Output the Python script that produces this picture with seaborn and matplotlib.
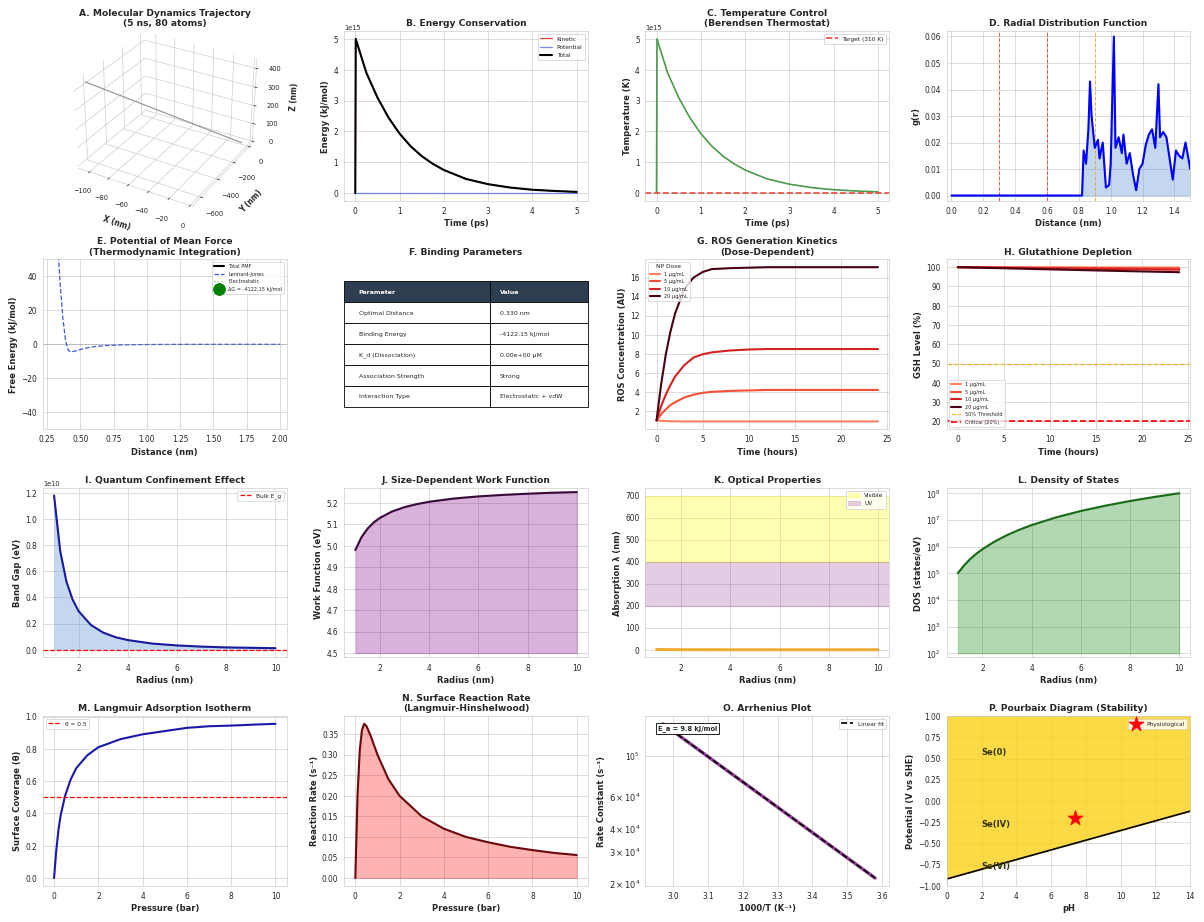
import numpy as np
import pandas as pd
import seaborn as sns
import matplotlib
matplotlib.use("Agg")
import matplotlib.pyplot as plt
from matplotlib.patches import Patch

sns.set_style("whitegrid")
plt.rcParams['font.family'] = ['DejaVu Sans']

# ---- data ----
# A: trajectory (one straight path)
traj_x = [-105, -55, -5]
traj_y = [-650, -325, 0]
traj_z = [440, 220, 0]

# B/C: energy and temperature (scaled by 1e15)
t_ps = [0, 0.01, 0.25, 0.5, 0.75, 1.0, 1.25, 1.5, 1.75, 2.0, 2.5, 3.0, 3.5, 4.0, 4.5, 5.0]
e_total = [0, 5.0, 3.9, 3.1, 2.45, 1.93, 1.52, 1.2, 0.95, 0.75, 0.46, 0.29, 0.18, 0.11, 0.07, 0.04]
e_kin = [0, 5.0, 3.9, 3.1, 2.45, 1.93, 1.52, 1.2, 0.95, 0.75, 0.46, 0.29, 0.18, 0.11, 0.07, 0.04]
e_pot = [0, 0, 0, 0, 0, 0, 0, 0, 0, 0, 0, 0, 0, 0, 0, 0]
temp_k = [0, 5.0, 3.9, 3.1, 2.45, 1.93, 1.52, 1.2, 0.95, 0.75, 0.46, 0.29, 0.18, 0.11, 0.07, 0.04]
target_temp = 310

# D: radial distribution function
rdf_r = [0.0, 0.82, 0.83, 0.845, 0.86, 0.87, 0.88, 0.9, 0.92, 0.93, 0.95, 0.97, 0.99, 1.0, 1.02,
         1.03, 1.05, 1.07, 1.08, 1.1, 1.12, 1.14, 1.16, 1.18, 1.2, 1.22, 1.24, 1.26, 1.28, 1.3,
         1.31, 1.33, 1.35, 1.37, 1.39, 1.41, 1.43, 1.45, 1.47, 1.5]
rdf_g = [0, 0, 0.017, 0.012, 0.025, 0.043, 0.030, 0.018, 0.021, 0.014, 0.020, 0.003, 0.004, 0.012, 0.060,
         0.018, 0.022, 0.016, 0.023, 0.012, 0.016, 0.008, 0.002, 0.010, 0.012, 0.019, 0.023, 0.025, 0.018, 0.042,
         0.022, 0.024, 0.022, 0.014, 0.006, 0.017, 0.015, 0.014, 0.020, 0.010]
shells = [0.3, 0.6, 0.9]

# E: potential of mean force
pmf_r = [0.33, 0.35, 0.37, 0.39, 0.41, 0.43, 0.47, 0.52, 0.6, 0.7, 0.8, 1.0, 1.25, 1.5, 1.75, 2.0]
pmf_lj = [60, 35, 15, 2, -3.5, -4.5, -3.8, -2.6, -1.4, -0.7, -0.35, -0.1, -0.03, -0.01, 0, 0]
pmf_elec = [-12500, -11800, -11150, -10600, -10050, -9600, -8800, -7950, -6900, -5900, -5150, -4150, -3300, -2750, -2350, -2050]
pmf_total = [-12440, -11765, -11135, -10598, -10054, -9605, -8804, -7953, -6901, -5901, -5150, -4150, -3300, -2750, -2350, -2050]
dg_min = -4122.15

# F: binding parameters
param_names = ["Optimal Distance", "Binding Energy", "K_d (Dissociation)", "Association Strength", "Interaction Type"]
param_values = ["0.330 nm", "-4122.15 kJ/mol", "0.00e+00 μM", "Strong", "Electrostatic + vdW"]

# G/H: dose-dependent ROS and GSH
t_hours = [0, 0.5, 1, 1.5, 2, 3, 4, 5, 6, 8, 10, 12, 16, 20, 24]
doses = ["1 μg/mL", "5 μg/mL", "10 μg/mL", "20 μg/mL"]
ros_1 = [1.0, 0.96, 0.93, 0.91, 0.9, 0.89, 0.89, 0.89, 0.89, 0.89, 0.89, 0.89, 0.89, 0.89, 0.89]
ros_5 = [1.0, 1.65, 2.15, 2.6, 2.9, 3.4, 3.7, 3.9, 4.0, 4.1, 4.15, 4.2, 4.2, 4.2, 4.2]
ros_10 = [1.0, 2.5, 3.7, 4.7, 5.6, 6.8, 7.6, 7.95, 8.15, 8.35, 8.45, 8.5, 8.5, 8.5, 8.5]
ros_20 = [1.0, 4.8, 7.9, 10.3, 12.2, 14.8, 16.0, 16.6, 16.9, 17.0, 17.05, 17.1, 17.1, 17.1, 17.1]
gsh_1 = [100, 100, 100, 100, 100, 99.98, 99.97, 99.96, 99.95, 99.93, 99.92, 99.9, 99.88, 99.85, 99.82]
gsh_5 = [100, 100, 99.98, 99.96, 99.94, 99.9, 99.87, 99.84, 99.81, 99.76, 99.7, 99.65, 99.56, 99.46, 99.36]
gsh_10 = [100, 99.99, 99.97, 99.94, 99.9, 99.84, 99.78, 99.72, 99.66, 99.55, 99.44, 99.33, 99.12, 98.9, 98.7]
gsh_20 = [100, 99.97, 99.92, 99.86, 99.8, 99.68, 99.56, 99.45, 99.33, 99.1, 98.88, 98.66, 98.22, 97.8, 97.4]

# I-L: size effects
radius = [1, 1.25, 1.5, 1.75, 2, 2.5, 3, 3.5, 4, 5, 6, 7, 8, 9, 10]
band_gap = [1.18, 0.755, 0.524, 0.385, 0.295, 0.189, 0.131, 0.096, 0.074, 0.047, 0.033, 0.024, 0.018, 0.015, 0.012]
work_fn = [4.98, 5.04, 5.08, 5.109, 5.13, 5.16, 5.18, 5.194, 5.205, 5.22, 5.23, 5.237, 5.2425, 5.247, 5.25]
abs_wl = [1.2, 0.77, 0.53, 0.39, 0.3, 0.19, 0.13, 0.1, 0.07, 0.05, 0.03, 0.02, 0.02, 0.01, 0.01]
dos = [1.0e5, 1.95e5, 3.4e5, 5.4e5, 8.0e5, 1.56e6, 2.7e6, 4.3e6, 6.4e6, 1.25e7, 2.16e7, 3.43e7, 5.12e7, 7.29e7, 1.0e8]
bulk_gap = 0.0
visible_band = (400, 700)
uv_band = (200, 400)

# M/N: surface chemistry
p_m = [0, 0.1, 0.2, 0.3, 0.5, 0.75, 1, 1.5, 2, 3, 4, 5, 6, 7, 8, 9, 10]
coverage = [0, 0.17, 0.30, 0.39, 0.51, 0.61, 0.68, 0.76, 0.81, 0.86, 0.89, 0.91, 0.93, 0.94, 0.944, 0.95, 0.955]
p_n = [0, 0.1, 0.2, 0.3, 0.4, 0.5, 0.7, 1.0, 1.5, 2, 3, 4, 5, 6, 7, 8, 9, 10]
rate = [0, 0.2, 0.31, 0.36, 0.375, 0.37, 0.345, 0.3, 0.24, 0.2, 0.15, 0.12, 0.1, 0.087, 0.076, 0.068, 0.061, 0.056]

# O: Arrhenius
inv_t = [2.97, 3.05, 3.15, 3.25, 3.35, 3.45, 3.58]
k_rate = [150000, 116300, 84500, 61500, 44700, 32500, 21500]

# P: Pourbaix
ph = [0, 14]
boundary = [-0.92, -0.12]
phys_ph, phys_e = 7.4, -0.2

# ---- figure ----
fig = plt.figure(figsize=(20, 15.32), dpi=60.2)
gs = fig.add_gridspec(4, 4)
TS = 11
LS = 10

def style(ax, title, xl, yl):
    ax.set_title(title, fontsize=TS, fontweight='bold')
    ax.set_xlabel(xl, fontsize=LS, fontweight='bold')
    ax.set_ylabel(yl, fontsize=LS, fontweight='bold')
    ax.tick_params(labelsize=9)

# A
ax = fig.add_subplot(gs[0, 0], projection='3d')
ax.plot(traj_x, traj_y, traj_z, color='gray', alpha=0.8, lw=1.5)
ax.set_title("A. Molecular Dynamics Trajectory\n(5 ns, 80 atoms)", fontsize=TS, fontweight='bold')
ax.set_xlabel("X (nm)", fontsize=9, fontweight='bold')
ax.set_ylabel("Y (nm)", fontsize=9, fontweight='bold')
ax.set_zlabel("Z (nm)", fontsize=9, fontweight='bold')
ax.set_yticks([-600, -400, -200, 0])
ax.tick_params(labelsize=8)
ax.set_box_aspect(None, zoom=1.2)
for pane in (ax.xaxis, ax.yaxis, ax.zaxis):
    pane.set_pane_color((1, 1, 1, 0))

# B
ax = fig.add_subplot(gs[0, 1])
df = pd.DataFrame({"t": t_ps, "Kinetic": e_kin, "Potential": e_pot, "Total": e_total})
sns.lineplot(data=df, x="t", y="Kinetic", ax=ax, color='#e74c3c', lw=1.5, label="Kinetic")
sns.lineplot(data=df, x="t", y="Potential", ax=ax, color='#3b5bdb', lw=1.5, alpha=0.7, label="Potential")
sns.lineplot(data=df, x="t", y="Total", ax=ax, color='black', lw=2.5, label="Total")
ax.legend(fontsize=7, loc='upper right')
ax.text(0, 1.01, "1e15", transform=ax.transAxes, fontsize=8)
style(ax, "B. Energy Conservation", "Time (ps)", "Energy (kJ/mol)")

# C
ax = fig.add_subplot(gs[0, 2])
sns.lineplot(x=t_ps, y=temp_k, ax=ax, color='#4c9a4c', lw=2)
ax.axhline(target_temp / 1e15, color='#e74c3c', ls='--', lw=2, label="Target (310 K)")
ax.legend(fontsize=7, loc='upper right')
ax.text(0, 1.01, "1e15", transform=ax.transAxes, fontsize=8)
style(ax, "C. Temperature Control\n(Berendsen Thermostat)", "Time (ps)", "Temperature (K)")

# D
ax = fig.add_subplot(gs[0, 3])
for s, c in zip(shells, ['#e74c3c', '#e74c3c', '#f0a830']):
    ax.axvline(s, color=c, ls='--', lw=1.2, alpha=0.9)
sns.lineplot(x=rdf_r, y=rdf_g, ax=ax, color='blue', lw=2.5)
ax.fill_between(rdf_r, rdf_g, color='#6a9fd8', alpha=0.4)
ax.set_xlim(-0.03, 1.5)
ax.set_ylim(-0.002, 0.062)
style(ax, "D. Radial Distribution Function", "Distance (nm)", "g(r)")

# E
ax = fig.add_subplot(gs[1, 0])
sns.lineplot(x=pmf_r, y=pmf_total, ax=ax, color='black', lw=2.5, label="Total PMF")
sns.lineplot(x=pmf_r, y=pmf_lj, ax=ax, color='#3b5bdb', lw=1.5, ls='--', label="Lennard-Jones")
sns.lineplot(x=pmf_r, y=pmf_elec, ax=ax, color='#8fbf6a', lw=1.5, ls=':', label="Electrostatic")
ax.scatter([0.33], [dg_min], s=200, color='green', zorder=5, label=f"ΔG = {dg_min:.2f} kJ/mol")
ax.axhline(0, color='gray', lw=0.8, alpha=0.5)
ax.set_xlim(0.22, 2.05)
ax.set_ylim(-50, 50)
ax.legend(fontsize=6, loc='upper right')
style(ax, "E. Potential of Mean Force\n(Thermodynamic Integration)", "Distance (nm)", "Free Energy (kJ/mol)")

# F
ax = fig.add_subplot(gs[1, 1])
ax.axis('off')
tbl = ax.table(cellText=[[n, v] for n, v in zip(param_names, param_values)],
               colLabels=["Parameter", "Value"], cellLoc='left', colLoc='left', loc='center',
               colWidths=[0.6, 0.4])
tbl.auto_set_font_size(False)
tbl.set_fontsize(7.5)
tbl.scale(1, 1.9)
for (r, c), cell in tbl.get_celld().items():
    if r == 0:
        cell.set_facecolor('#2c3e50')
        cell.set_text_props(color='white', fontweight='bold')
ax.set_title("F. Binding Parameters", fontsize=TS, fontweight='bold')

# G
reds = sns.color_palette("Reds", 6)[2:]
reds = [reds[0], reds[1], reds[2], '#4a0010']
ax = fig.add_subplot(gs[1, 2])
for vals, lab, col in zip([ros_1, ros_5, ros_10, ros_20], doses, reds):
    sns.lineplot(x=t_hours, y=vals, ax=ax, color=col, lw=2.5, label=lab)
ax.legend(title="NP Dose", fontsize=6, title_fontsize=7, loc='upper left')
ax.set_xlim(-1.2, 25.2)
style(ax, "G. ROS Generation Kinetics\n(Dose-Dependent)", "Time (hours)", "ROS Concentration (AU)")

# H
ax = fig.add_subplot(gs[1, 3])
for vals, lab, col in zip([gsh_1, gsh_5, gsh_10, gsh_20], doses, reds):
    sns.lineplot(x=t_hours, y=vals, ax=ax, color=col, lw=2.5, label=lab)
ax.axhline(50, color='#f0b030', ls='--', lw=1.5, label="50% Threshold")
ax.axhline(20, color='red', ls='--', lw=2, label="Critical (20%)")
ax.legend(fontsize=6, loc='lower left')
ax.set_xlim(-1.2, 25.2)
style(ax, "H. Glutathione Depletion", "Time (hours)", "GSH Level (%)")

# I
ax = fig.add_subplot(gs[2, 0])
sns.lineplot(x=radius, y=band_gap, ax=ax, color='#1a1a9a', lw=2.5)
ax.fill_between(radius, band_gap, color='#6a9fd8', alpha=0.4)
ax.axhline(bulk_gap, color='red', ls='--', lw=1.5, label="Bulk E_g")
ax.legend(fontsize=7, loc='upper right')
ax.text(0, 1.01, "1e10", transform=ax.transAxes, fontsize=8)
style(ax, "I. Quantum Confinement Effect", "Radius (nm)", "Band Gap (eV)")

# J
ax = fig.add_subplot(gs[2, 1])
sns.lineplot(x=radius, y=work_fn, ax=ax, color='#3a0a3a', lw=2.5)
ax.fill_between(radius, work_fn, 4.5, color='purple', alpha=0.3)
ax.set_ylim(4.48, 5.27)
style(ax, "J. Size-Dependent Work Function", "Radius (nm)", "Work Function (eV)")

# K
ax = fig.add_subplot(gs[2, 2])
ax.axhspan(*visible_band, color='yellow', alpha=0.3, label="Visible")
ax.axhspan(*uv_band, color='purple', alpha=0.2, label="UV")
sns.lineplot(x=radius, y=abs_wl, ax=ax, color='#f0a830', lw=3.5)
ax.legend(handles=[Patch(color='yellow', alpha=0.3, label="Visible"),
                   Patch(color='purple', alpha=0.2, label="UV")], fontsize=7, loc='upper right')
ax.set_xlim(0.55, 10.45)
style(ax, "K. Optical Properties", "Radius (nm)", "Absorption λ (nm)")

# L
ax = fig.add_subplot(gs[2, 3])
sns.lineplot(x=radius, y=dos, ax=ax, color='#1a6a1a', lw=2.5)
ax.fill_between(radius, dos, 1e2, color='green', alpha=0.3)
ax.set_yscale('log')
ax.set_ylim(7e1, 1.6e8)
style(ax, "L. Density of States", "Radius (nm)", "DOS (states/eV)")

# M
ax = fig.add_subplot(gs[3, 0])
sns.lineplot(x=p_m, y=coverage, ax=ax, color='#1a1aaa', lw=2.5)
ax.axhline(0.5, color='red', ls='--', lw=1.5, label="θ = 0.5")
ax.legend(fontsize=7, loc='upper left')
style(ax, "M. Langmuir Adsorption Isotherm", "Pressure (bar)", "Surface Coverage (θ)")

# N
ax = fig.add_subplot(gs[3, 1])
sns.lineplot(x=p_n, y=rate, ax=ax, color='#6a0a0a', lw=2.5)
ax.fill_between(p_n, rate, color='red', alpha=0.3)
style(ax, "N. Surface Reaction Rate\n(Langmuir-Hinshelwood)", "Pressure (bar)", "Reaction Rate (s⁻¹)")

# O
ax = fig.add_subplot(gs[3, 2])
sns.lineplot(x=inv_t, y=k_rate, ax=ax, color='#9a3a9a', lw=4)
sns.lineplot(x=inv_t, y=k_rate, ax=ax, color='black', lw=2, ls='--', label="Linear fit")
ax.set_yscale('log')
ax.set_xlim(2.92, 3.62)
ax.legend(fontsize=7, loc='upper right')
ax.text(0.05, 0.95, "E_a = 9.8 kJ/mol", transform=ax.transAxes, fontsize=8, fontweight='bold',
        va='top', bbox=dict(boxstyle='square', facecolor='white', edgecolor='black'))
style(ax, "O. Arrhenius Plot", "1000/T (K⁻¹)", "Rate Constant (s⁻¹)")

# P
ax = fig.add_subplot(gs[3, 3])
ax.fill_between(ph, boundary, 1.0, color='#fcd116', alpha=0.8)
sns.lineplot(x=ph, y=boundary, ax=ax, color='black', lw=2)
ax.scatter([phys_ph], [phys_e], marker='*', s=350, color='red', zorder=5, label="Physiological")
for txt, yy in [("Se(0)", 0.55), ("Se(IV)", -0.3), ("Se(VI)", -0.8)]:
    ax.text(2, yy, txt, fontsize=10, fontweight='bold', color='#333300')
ax.set_xlim(0, 14)
ax.set_ylim(-1, 1)
ax.legend(fontsize=7, loc='upper right')
style(ax, "P. Pourbaix Diagram (Stability)", "pH", "Potential (V vs SHE)")

plt.tight_layout()
plt.savefig("out.png", dpi=60.2)
